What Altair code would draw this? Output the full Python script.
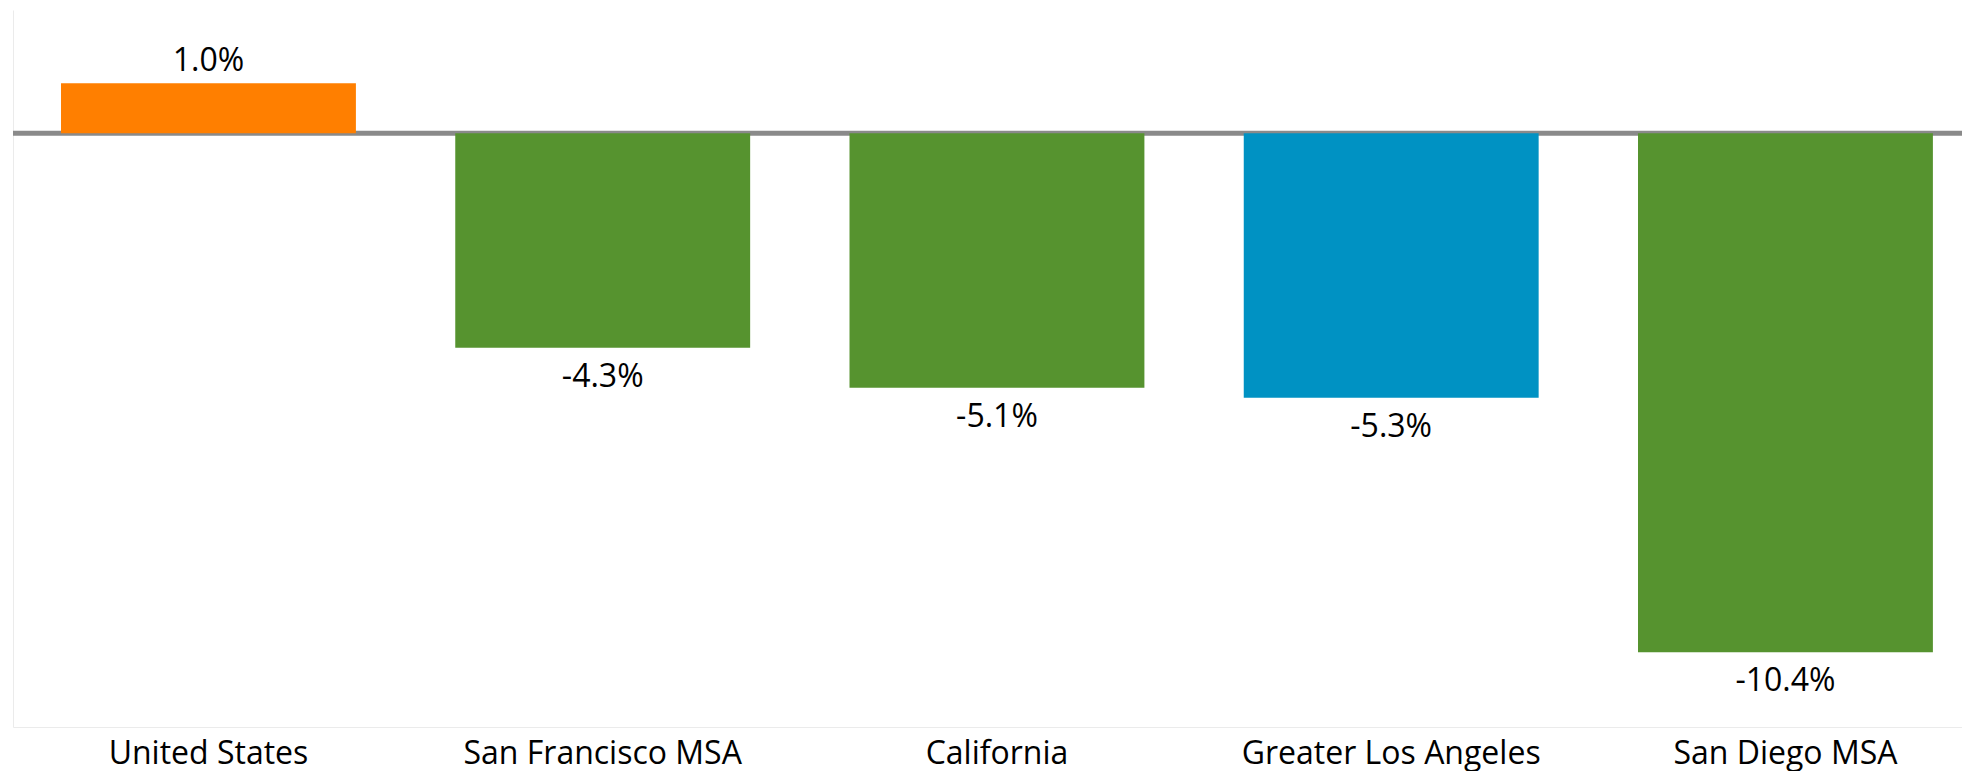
import altair as alt
import pandas as pd

regions = ["United States", "San Francisco MSA", "California", "Greater Los Angeles", "San Diego MSA"]
values = [1.0, -4.3, -5.1, -5.3, -10.4]
bar_colors = ["#FF7F00", "#56932F", "#56932F", "#0092C3", "#56932F"]

df = pd.DataFrame({"region": regions, "value": values})
zero_df = pd.DataFrame({"z": [0]})

FONT = "Open Sans"

x_enc = alt.X(
    "region:N",
    sort=regions,
    title=None,
    scale=alt.Scale(paddingInner=0.252, paddingOuter=0.0978, align=0.6226),
    axis=alt.Axis(
        labelAngle=0,
        labelFont=FONT,
        labelFontSize=32,
        labelColor="#000000",
        labelPadding=36,
        labelBaseline="alphabetic",
        labelLimit=0,
        ticks=False,
        domain=True,
        domainColor="#ebebeb",
        domainWidth=1,
        grid=False,
    ),
)

y_scale = alt.Scale(domain=[-11.9, 2.47], nice=False, zero=False)
y_enc = alt.Y(
    "value:Q",
    title=None,
    scale=y_scale,
    axis=alt.Axis(labels=False, ticks=False, grid=False, domainColor="#ebebeb", domainWidth=1),
)

baseline = alt.Chart(zero_df).mark_rule(color="#8a8a8a", strokeWidth=5).encode(
    y=alt.Y("z:Q", scale=y_scale),
    x=alt.value(0),
    x2=alt.value(1949),
)

base = alt.Chart(df).transform_calculate(
    label="(datum.value < 0 ? '-' : '') + format(abs(datum.value), '.1f') + '%'"
)

bars = base.mark_bar().encode(
    x=x_enc,
    y=y_enc,
    y2=alt.datum(0),
    color=alt.Color("region:N", scale=alt.Scale(domain=regions, range=bar_colors), legend=None),
)

pos_text = base.transform_filter("datum.value >= 0").mark_text(
    baseline="alphabetic", align="center", dy=-12, font=FONT, fontSize=32, color="#000000"
).encode(x=alt.X("region:N", sort=regions), y=alt.Y("value:Q"), text="label:N")

neg_text = base.transform_filter("datum.value < 0").mark_text(
    baseline="alphabetic", align="center", dy=39, font=FONT, fontSize=32, color="#000000"
).encode(x=alt.X("region:N", sort=regions), y=alt.Y("value:Q"), text="label:N")

chart = (
    alt.layer(baseline, bars, pos_text, neg_text)
    .properties(
        width=1949,
        height=717,
        padding={"left": 5, "top": 2, "right": 0, "bottom": 44},
        autosize=alt.AutoSizeParams(type="none"),
        background="white",
    )
    .configure_view(stroke=None)
)

chart.save("out.html", embed_options={"renderer": "svg", "actions": False})
